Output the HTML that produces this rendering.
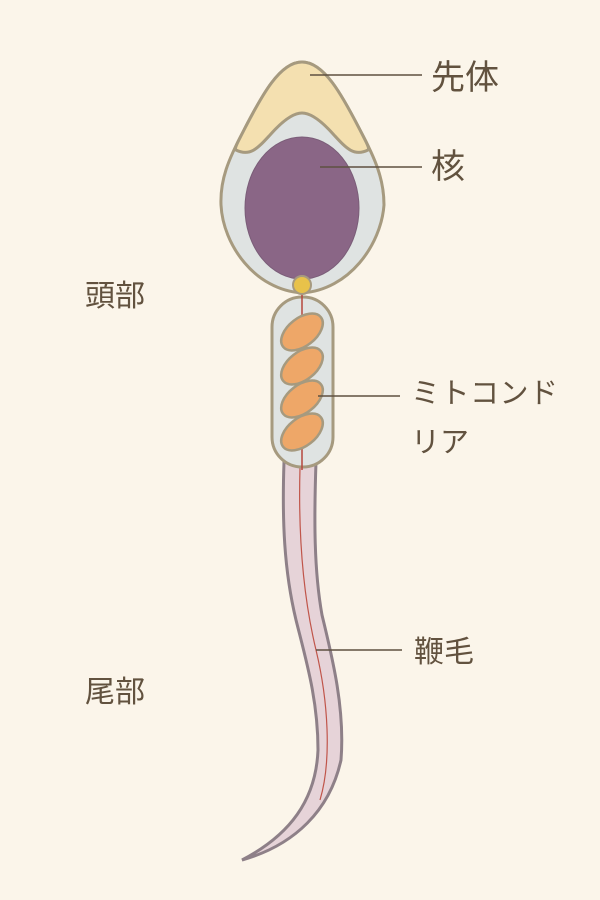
<!DOCTYPE html>
<html><head><meta charset="utf-8"><style>
html,body{margin:0;padding:0;background:#fbf5ea;}
svg{display:block}
text{font-family:"Liberation Sans","Noto Sans CJK JP",sans-serif;fill:#62523f;}
</style></head><body>
<svg width="600" height="900" viewBox="0 0 600 900">
<rect width="600" height="900" fill="#fbf5ea"/>
<!-- tail -->
<path d="M284,462 C282,520 284,570 296,620 C306,660 318,700 318,750 C316,800 290,835 242,860 C295,845 330,810 341,760 C345,710 333,660 322,615 C314,570 314,520 316,462 Z" fill="#e6d3d8" stroke="#8e8088" stroke-width="3"/>
<path d="M300,468 C298,540 304,600 316,650 C328,700 332,760 320,800" fill="none" stroke="#c0554a" stroke-width="1.2"/>
<!-- head -->
<path d="M302,62 C280,62 262,95 244,130 C228,160 220,180 221,205 C223,245 255,290 302,293 C349,290 381,245 384,205 C384,180 376,160 360,130 C342,95 324,62 302,62 Z" fill="#dfe3e2" stroke="#a69a7f" stroke-width="3"/>
<path d="M302,62 C280,62 262,95 244,130 C238,142 234,148 236,150 C250,157 258,148 270,135 C285,118 295,113 302,113 C309,113 319,118 334,135 C346,148 354,157 368,150 C370,148 366,142 360,130 C342,95 324,62 302,62 Z" fill="#f4e0b0" stroke="#a69a7f" stroke-width="3"/>
<ellipse cx="302" cy="208" rx="57" ry="71" fill="#8a6686" stroke="#7a5d78" stroke-width="1"/>
<!-- midpiece -->
<rect x="272" y="297" width="61" height="170" rx="30" fill="#dfe3e2" stroke="#a69a7f" stroke-width="3"/>
<line x1="302" y1="290" x2="302" y2="470" stroke="#b5483c" stroke-width="1.5"/>
<circle cx="302" cy="285" r="9" fill="#e8c24a" stroke="#a69a7f" stroke-width="2"/>
<g fill="#eea768" stroke="#a69a7f" stroke-width="2.5">
<ellipse cx="302" cy="332" rx="24" ry="14" transform="rotate(-38 302 332)"/>
<ellipse cx="302" cy="366" rx="24" ry="14" transform="rotate(-38 302 366)"/>
<ellipse cx="302" cy="399" rx="24" ry="14" transform="rotate(-38 302 399)"/>
<ellipse cx="302" cy="432" rx="24" ry="14" transform="rotate(-38 302 432)"/>
</g>
<!-- leader lines -->
<g stroke="#5e5040" stroke-width="1.5">
<line x1="310" y1="75" x2="422" y2="75"/>
<line x1="320" y1="167" x2="422" y2="167"/>
<line x1="318" y1="396" x2="400" y2="396"/>
<line x1="316" y1="650" x2="402" y2="650"/>
</g>
<text x="431" y="89" font-size="34">先体</text>
<text x="431" y="178" font-size="34">核</text>
<text x="411" y="403" font-size="29" letter-spacing="0.5">ミトコンド</text>
<text x="411" y="452" font-size="29">リア</text>
<text x="414" y="662" font-size="30">鞭毛</text>
<text x="85" y="306" font-size="30">頭部</text>
<text x="85" y="702" font-size="30">尾部</text>
</svg>
</body></html>
